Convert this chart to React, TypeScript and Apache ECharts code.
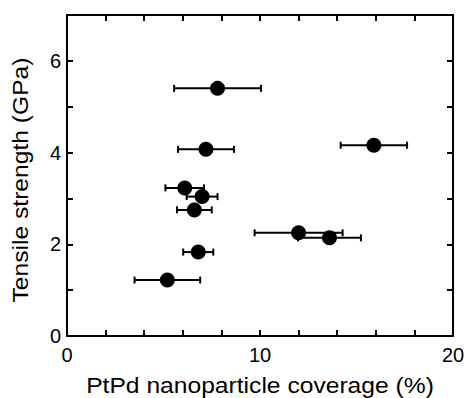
import React, { useEffect, useRef } from "react";
import * as echarts from "echarts";

const coverage = [7.8, 7.2, 6.1, 7.0, 6.6, 6.8, 5.2, 12.0, 13.6, 15.9];
const strength = [5.4, 4.07, 3.23, 3.04, 2.75, 1.83, 1.22, 2.25, 2.14, 4.16];
const coverageErr = [2.25, 1.45, 1.0, 0.8, 0.9, 0.78, 1.7, 2.28, 1.63, 1.72];
const xLabels = [0, 10, 20];
const yLabels = [0, 2, 4, 6];
const xTitle = "PtPd nanoparticle coverage (%)";
const yTitle = "Tensile strength (GPa)";

const FONT = 'Arial, "Liberation Sans", sans-serif';

export default function App() {
  const ref = useRef<HTMLDivElement>(null);
  useEffect(() => {
    if (!ref.current) return;
    const chart = echarts.init(ref.current, undefined, { renderer: "svg" });
    const axisLine = { show: true, onZero: false, lineStyle: { color: "#000", width: 2 } };
    const tick = { show: true, inside: true, length: 6, lineStyle: { color: "#000", width: 2 } };
    const pts = coverage.map((x, i) => [x, strength[i]]);
    const errData = coverage.map((x, i) => [x - coverageErr[i], x + coverageErr[i], strength[i]]);
    chart.setOption({
      animation: false,
      grid: { left: 67, right: 15, top: 15, bottom: 62, containLabel: false },
      graphic: [
        {
          type: "text",
          x: 260,
          y: 385,
          scaleX: 1.12,
          style: {
            text: xTitle,
            fontSize: 22,
            fontFamily: FONT,
            fill: "#000",
            align: "center",
            verticalAlign: "middle",
          },
        },
        {
          type: "text",
          x: 20.5,
          y: 180,
          rotation: Math.PI / 2,
          scaleX: 1.12,
          style: {
            text: yTitle,
            fontSize: 22,
            fontFamily: FONT,
            fill: "#000",
            align: "center",
            verticalAlign: "middle",
          },
        },
      ],
      xAxis: [
        {
          type: "value",
          min: 0,
          max: 20,
          interval: 2,
          position: "bottom",
          axisLine,
          axisTick: tick,
          splitLine: { show: false },
          axisLabel: {
            margin: 9,
            fontSize: 20,
            color: "#000",
            fontFamily: FONT,
            formatter: (v: number) => (xLabels.includes(v) ? String(v) : ""),
          },
        },
        {
          type: "value",
          min: 0,
          max: 20,
          interval: 2,
          position: "top",
          axisLine,
          axisTick: tick,
          splitLine: { show: false },
          axisLabel: { show: false },
        },
      ],
      yAxis: [
        {
          type: "value",
          min: 0,
          max: 7,
          interval: 1,
          position: "left",
          axisLine,
          axisTick: tick,
          splitLine: { show: false },
          axisLabel: {
            margin: 6,
            fontSize: 20,
            color: "#000",
            fontFamily: FONT,
            formatter: (v: number) => (yLabels.includes(v) ? String(v) : ""),
          },
        },
        {
          type: "value",
          min: 0,
          max: 7,
          interval: 1,
          position: "right",
          axisLine,
          axisTick: tick,
          splitLine: { show: false },
          axisLabel: { show: false },
        },
      ],
      series: [
        {
          type: "custom",
          xAxisIndex: 0,
          yAxisIndex: 0,
          data: errData,
          renderItem: (params: any, api: any) => {
            const lo = api.coord([api.value(0), api.value(2)]);
            const hi = api.coord([api.value(1), api.value(2)]);
            const h = 3.5;
            const style = { stroke: "#000", lineWidth: 2 };
            return {
              type: "group",
              children: [
                { type: "line", shape: { x1: lo[0], y1: lo[1], x2: hi[0], y2: hi[1] }, style },
                { type: "line", shape: { x1: lo[0], y1: lo[1] - h, x2: lo[0], y2: lo[1] + h }, style },
                { type: "line", shape: { x1: hi[0], y1: hi[1] - h, x2: hi[0], y2: hi[1] + h }, style },
              ],
            };
          },
          z: 1,
        },
        {
          type: "scatter",
          xAxisIndex: 0,
          yAxisIndex: 0,
          data: pts,
          symbol: "circle",
          symbolSize: 15,
          itemStyle: { color: "#000", opacity: 1 },
          z: 2,
        },
      ],
    });
    return () => chart.dispose();
  }, []);
  return (
    <div
      ref={ref}
      style={{ position: "absolute", left: 0, top: 0, width: 468, height: 398 }}
    />
  );
}
